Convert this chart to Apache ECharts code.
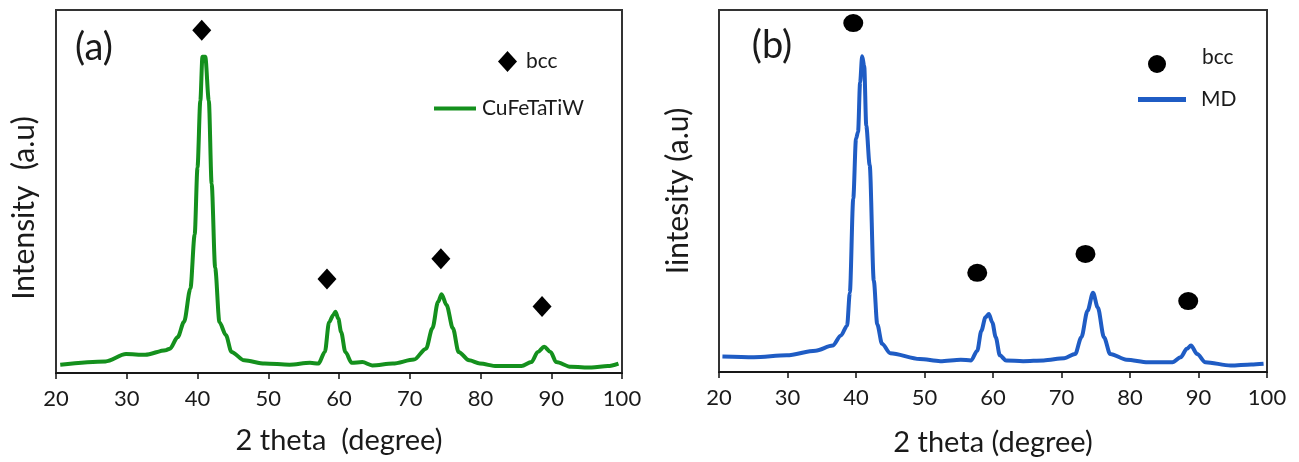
<!DOCTYPE html>
<html><head><meta charset="utf-8">
<script src="https://cdn.jsdelivr.net/npm/echarts@6/dist/echarts.min.js"></script>
<style>html,body{margin:0;padding:0;background:#fff}#c{width:1299px;height:462px}</style>
</head><body><div id="c"></div>
<script>
// Panel (a): CuFeTaTiW
const thetaA = [20.6,27.0,29.9,32.6,35.5,36.1,37.2,38.1,39.0,39.6,40.0,40.4,40.7,41.1,41.6,42.0,42.5,43.1,44.0,44.8,46.6,49.5,53.0,55.9,57.1,58.0,58.6,59.2,59.5,59.9,60.3,60.9,61.8,63.3,64.7,67.6,70.6,72.3,73.2,74.0,74.5,75.2,76.1,76.9,78.4,79.9,82.3,85.8,87.2,88.1,89.0,89.9,90.7,92.8,95.7,98.0,99.5];
const intensityA = [2.3,3.2,5.2,5.0,6.3,6.7,9.9,14.1,23.3,38.1,56.6,75.0,87.1,87.1,75.0,52.1,28.9,14.0,10.5,5.8,3.5,2.6,2.3,2.8,2.6,5.8,14.0,16.0,16.9,15.0,11.3,5.8,2.8,3.0,2.1,2.6,3.7,6.7,12.3,19.6,21.7,18.7,12.3,5.8,3.5,2.6,1.9,1.9,3.0,5.8,7.2,5.8,3.0,1.7,1.5,1.9,2.6];
const bccThetaA = [40.6,58.3,74.4,88.7];
const bccMarkA = [94.4,25.9,31.5,18.3];

// Panel (b): MD
const thetaB = [20.5,25.1,29.9,34.1,36.6,37.8,38.7,39.1,39.6,40.0,40.3,40.6,40.9,41.2,41.5,42.0,42.6,43.1,43.8,45.0,49.3,52.3,55.3,56.8,57.7,58.3,58.9,59.4,59.9,60.4,61.0,61.9,64.4,67.4,70.4,72.0,72.9,73.8,74.6,75.3,76.2,77.1,79.5,82.6,86.2,87.4,88.3,88.9,89.8,91.0,94.7,97.7,99.5];
const intensityB = [4.3,4.1,4.6,5.9,7.3,10.1,12.8,21.9,47.9,64.4,66.3,80.0,87.2,84.5,68.0,57.1,25.2,13.2,7.8,5.2,3.6,3.0,3.4,3.2,5.9,11.4,15.1,16.0,13.7,9.6,4.6,3.2,3.0,3.2,3.8,5.0,9.6,16.9,21.9,17.8,9.6,5.0,3.4,2.7,2.7,4.1,6.4,7.3,5.0,2.7,1.8,2.1,2.3];
const bccThetaB = [39.6,57.7,73.5,88.5];
const bccMarkB = [96.4,27.4,32.6,19.6];

const xTickMin = 20, xTickMax = 100, xTickStep = 10;

const FONT = 'Lato, "Liberation Sans", sans-serif';
const TXT = '#1a1a1a';
const GREEN = '#14901d';
const BLUE = '#1f5cc4';

function pairs(xs, ys){ return xs.map((x,i)=>[x, ys[i]]); }
function xAxisCfg(gridIndex, name, gap){
  return {type:'value', gridIndex, min:xTickMin, max:xTickMax, interval:xTickStep,
    name, nameLocation:'middle', nameGap:gap,
    nameTextStyle:{fontFamily:FONT,fontSize:29,color:TXT},
    axisLine:{show:true,onZero:false,lineStyle:{color:'#111',width:1.5}},
    axisTick:{show:true,length:6,lineStyle:{color:'#111',width:1.5}},
    axisLabel:{fontFamily:FONT,fontSize:22,color:TXT,margin:15},
    splitLine:{show:false}};
}
function yAxisCfg(gridIndex){
  return {type:'value', gridIndex, min:0, max:100,
    axisLine:{show:false}, axisTick:{show:false}, axisLabel:{show:false}, splitLine:{show:false}};
}
const legendText = {fontFamily:FONT,fontSize:21,color:TXT};

const chart = echarts.init(document.getElementById('c'));
chart.setOption({
  animation:false,
  backgroundColor:'#fff',
  grid:[
    {left:56,right:677,top:10,bottom:89,show:true,borderColor:'#333',borderWidth:2},
    {left:719,right:32,top:10,bottom:87,show:true,borderColor:'#333',borderWidth:2}
  ],
  xAxis:[xAxisCfg(0,'2 theta  (degree)',53), xAxisCfg(1,'2 theta (degree)',56)],
  yAxis:[yAxisCfg(0), yAxisCfg(1)],
  legend:[
    {data:[{name:'bcc-a',icon:'diamond'}], left:498, top:51, padding:0, itemWidth:19, itemHeight:21,
      formatter:()=>'bcc', selectedMode:false, textStyle:Object.assign({padding:[0,0,0,4]},legendText)},
    {data:[{name:'CuFeTaTiW',icon:'rect'}], left:434, top:98, padding:0, itemWidth:42, itemHeight:4,
      selectedMode:false, textStyle:Object.assign({padding:[0,0,0,1]},legendText)},
    {data:[{name:'bcc-b',icon:'circle'}], left:1148, top:47, padding:0, itemWidth:20, itemHeight:18,
      formatter:()=>'{t|bcc}', selectedMode:false,
      textStyle:Object.assign({padding:[0,0,0,30], rich:{t:Object.assign({padding:[0,0,13,0]},legendText)}},legendText)},
    {data:[{name:'MD',icon:'rect'}], left:1138, top:89, padding:0, itemWidth:48, itemHeight:5,
      selectedMode:false, textStyle:Object.assign({padding:[0,0,0,10]},legendText)}
  ],
  graphic:[
    {type:'text', x:94, y:48, style:{text:'(a)', fontFamily:FONT, fontSize:38, fill:TXT, align:'center', verticalAlign:'middle'}},
    {type:'text', x:772, y:46, style:{text:'(b)', fontFamily:FONT, fontSize:38, fill:TXT, align:'center', verticalAlign:'middle'}},
    {type:'text', x:24, y:208, rotation:Math.PI/2, style:{text:'Intensity  (a.u)', fontFamily:FONT, fontSize:30, fill:TXT, align:'center', verticalAlign:'middle'}},
    {type:'text', x:678, y:191, rotation:Math.PI/2, style:{text:'Iintesity (a.u)', fontFamily:FONT, fontSize:30, fill:TXT, align:'center', verticalAlign:'middle'}}
  ],
  series:[
    {type:'line', name:'CuFeTaTiW', xAxisIndex:0, yAxisIndex:0, data:pairs(thetaA,intensityA),
      showSymbol:false, smooth:0.3, smoothMonotone:'x', lineStyle:{color:GREEN,width:4}, itemStyle:{color:GREEN}},
    {type:'scatter', name:'bcc-a', xAxisIndex:0, yAxisIndex:0, data:pairs(bccThetaA,bccMarkA),
      symbol:'diamond', symbolSize:[19,21], itemStyle:{color:'#000',opacity:1}},
    {type:'line', name:'MD', xAxisIndex:1, yAxisIndex:1, data:pairs(thetaB,intensityB),
      showSymbol:false, smooth:0.3, smoothMonotone:'x', lineStyle:{color:BLUE,width:4}, itemStyle:{color:BLUE}},
    {type:'scatter', name:'bcc-b', xAxisIndex:1, yAxisIndex:1, data:pairs(bccThetaB,bccMarkB),
      symbol:'circle', symbolSize:[20,18], itemStyle:{color:'#000',opacity:1}}
  ]
});
</script></body></html>
